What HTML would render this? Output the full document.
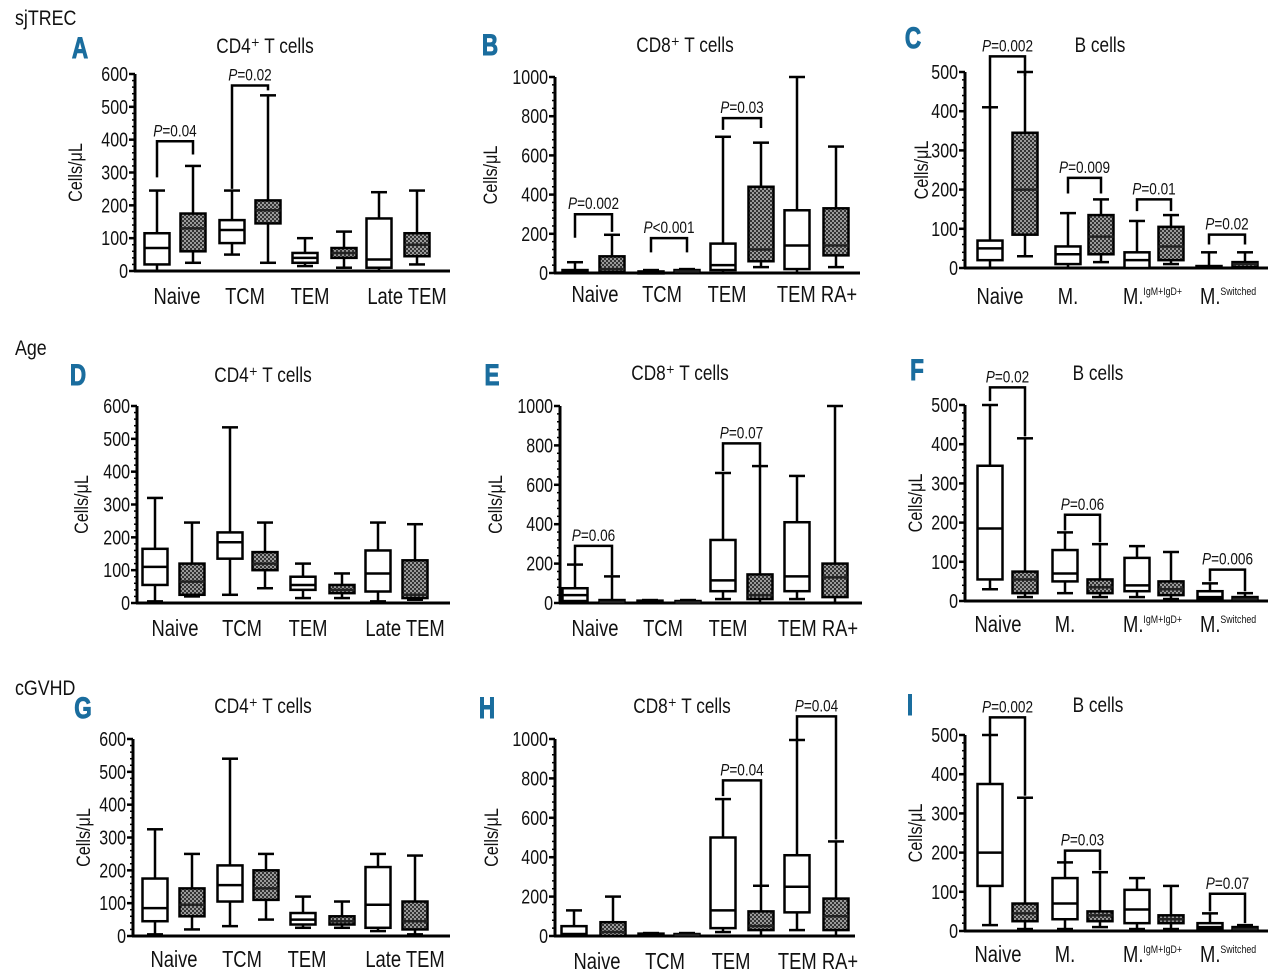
<!DOCTYPE html>
<html><head><meta charset="utf-8"><title>Box plots</title>
<style>
html,body{margin:0;padding:0;background:#fff;}
svg{display:block;font-family:"Liberation Sans",sans-serif;}
</style></head>
<body>
<svg id="fig" width="1280" height="980" viewBox="0 0 1280 980" xmlns="http://www.w3.org/2000/svg">
<defs>
<pattern id="chk" width="4" height="4" patternUnits="userSpaceOnUse">
<rect width="4" height="4" fill="#333"/><rect width="2" height="2" fill="#9a9a9a"/><rect x="2" y="2" width="2" height="2" fill="#9a9a9a"/>
</pattern>
</defs>
</svg>
<script>
// ---- data: each box = [min, q1, median, q3, max]
const tCats = ["Naive","TCM","TEM","Late TEM"];
const cd8Cats = ["Naive","TCM","TEM","TEM RA+"];
const bCats = ["Naive","M.","M.","M."];
const bSup = ["","","IgM+IgD+","Switched"];

const aBoxes = [[0,20,70,115,245],[25,60,130,175,320],[50,85,125,155,245],[25,145,185,215,535],[15,25,40,55,100],[10,40,55,70,120],[0,10,35,160,240],[20,45,80,115,245]];
const bBoxes = [[0,0,5,15,55],[0,5,20,85,195],[0,0,3,8,15],[0,3,8,15,20],[0,15,40,150,695],[30,60,120,440,665],[0,20,140,320,1000],[30,90,140,330,645]];
const cBoxes = [[0,20,50,70,410],[30,85,200,345,500],[0,10,35,55,140],[15,35,80,135,175],[0,0,20,40,120],[10,20,55,105,135],[0,0,2,5,40],[0,2,10,15,40]];
const dBoxes = [[5,55,110,165,320],[20,25,65,120,245],[25,135,185,215,535],[45,100,120,155,245],[15,40,55,80,120],[15,30,40,55,90],[5,35,90,160,245],[10,15,25,130,240]];
const eBoxes = [[0,10,40,75,195],[0,0,5,15,135],[0,0,5,12,15],[0,0,3,10,15],[20,60,115,320,660],[0,20,40,145,695],[20,60,135,410,645],[0,30,130,200,1000]];
const fBoxes = [[30,55,185,345,500],[10,20,55,75,415],[20,50,70,130,175],[10,20,35,55,145],[10,25,40,110,140],[5,15,30,50,125],[0,5,10,25,45],[0,5,5,10,20]];
const gBoxes = [[5,45,85,175,325],[20,60,95,145,250],[30,105,155,215,540],[50,110,145,200,250],[25,35,50,70,120],[25,35,45,60,105],[15,25,95,210,250],[5,20,45,105,245]];
const hBoxes = [[0,0,10,50,130],[0,0,20,70,200],[0,0,5,12,15],[0,0,5,10,15],[20,40,130,500,695],[0,30,50,125,255],[30,120,250,410,995],[0,30,100,190,480]];
const iBoxes = [[15,115,200,375,500],[5,25,45,70,340],[5,30,70,135,175],[10,25,40,50,150],[5,20,55,105,135],[5,20,30,40,115],[0,5,10,20,45],[0,5,5,10,15]];

// brackets: [groupIndex, topValue, leftBottom, rightBottom, label]
const aBr = [[0,395,285,355,"0.04"],[1,565,250,550,"0.02"]];
const bBr = [[0,300,180,210,"0.002"],[1,178,105,105,"<0.001"],[2,790,730,740,"0.03"]];
const cBr = [[0,540,410,490,"0.002"],[1,230,190,190,"0.009"],[2,175,145,145,"0.01"],[3,85,60,60,"0.02"]];
const dBr = [];
const eBr = [[0,290,200,140,"0.06"],[2,810,670,700,"0.07"]];
const fBr = [[0,545,510,420,"0.02"],[1,220,180,150,"0.06"],[3,80,50,25,"0.006"]];
const gBr = [];
const hBr = [[2,790,710,260,"0.04"],[3,1115,1000,490,"0.04"]];
const iBr = [[0,545,500,345,"0.002"],[1,205,175,155,"0.03"],[3,95,50,20,"0.07"]];

const NS="http://www.w3.org/2000/svg";
const svg=document.getElementById('fig');
function el(tag,attrs,parent){const e=document.createElementNS(NS,tag);for(const k in attrs)e.setAttribute(k,attrs[k]);(parent||svg).appendChild(e);return e;}
function txt(x,y,s,size,anchor,parent,sx,extra){
  const t=el('text',Object.assign({transform:`translate(${x},${y}) scale(${sx||0.8},1)`,'font-size':size,'text-anchor':anchor||'middle',fill:'#111'},extra||{}),parent);
  t.textContent=s;return t;
}

const panels=[
 {id:'a',letter:'A',lx:80,ly:58,title:'CD4⁺ T cells',tx:265,ty:53,ax:135,y0:271,yT:74,max:600,step:100,end:450,cx:[157,193,232,268,305,344,379,417],data:aBoxes,br:aBr,cats:tCats,labX:[177,245,310,407],labY:304,ytx:82,sup:null},
 {id:'b',letter:'B',lx:490,ly:55,title:'CD8⁺ T cells',tx:685,ty:52,ax:555,y0:273,yT:77,max:1000,step:200,end:860,cx:[575,612,651,687,723,761,797,836],data:bBoxes,br:bBr,cats:cd8Cats,labX:[595,662,727,817],labY:302,ytx:497,sup:null},
 {id:'c',letter:'C',lx:913,ly:48,title:'B cells',tx:1100,ty:52,ax:965,y0:268,yT:72,max:500,step:100,end:1268,cx:[990,1025,1068,1101,1137,1171,1209,1245],data:cBoxes,br:cBr,cats:bCats,labX:[1000,1068,1133,1210],labY:304,ytx:928,sup:bSup},
 {id:'d',letter:'D',lx:78,ly:385,title:'CD4⁺ T cells',tx:263,ty:382,ax:137,y0:603,yT:406,max:600,step:100,end:450,cx:[155,192,230,265,303,342,378,415],data:dBoxes,br:dBr,cats:tCats,labX:[175,242,308,405],labY:636,ytx:88,sup:null},
 {id:'e',letter:'E',lx:492,ly:385,title:'CD8⁺ T cells',tx:680,ty:380,ax:560,y0:603,yT:406,max:1000,step:200,end:862,cx:[575,612,650,688,723,760,797,835],data:eBoxes,br:eBr,cats:cd8Cats,labX:[595,663,728,818],labY:636,ytx:502,sup:null},
 {id:'f',letter:'F',lx:917,ly:380,title:'B cells',tx:1098,ty:380,ax:965,y0:601,yT:405,max:500,step:100,end:1268,cx:[990,1025,1065,1100,1137,1171,1210,1245],data:fBoxes,br:fBr,cats:bCats,labX:[998,1065,1133,1210],labY:632,ytx:922,sup:bSup},
 {id:'g',letter:'G',lx:83,ly:718,title:'CD4⁺ T cells',tx:263,ty:713,ax:133,y0:936,yT:739,max:600,step:100,end:450,cx:[155,192,230,266,303,342,378,415],data:gBoxes,br:gBr,cats:tCats,labX:[174,242,307,405],labY:967,ytx:90,sup:null},
 {id:'h',letter:'H',lx:487,ly:718,title:'CD8⁺ T cells',tx:682,ty:713,ax:555,y0:936,yT:739,max:1000,step:200,end:855,cx:[574,613,651,687,723,761,797,836],data:hBoxes,br:hBr,cats:cd8Cats,labX:[597,665,731,818],labY:969,ytx:498,sup:null},
 {id:'i',letter:'I',lx:910,ly:715,title:'B cells',tx:1098,ty:712,ax:965,y0:931,yT:735,max:500,step:100,end:1268,cx:[990,1025,1065,1100,1137,1171,1210,1245],data:iBoxes,br:iBr,cats:bCats,labX:[998,1065,1133,1210],labY:962,ytx:922,sup:bSup}
];

function drawPanel(p){
  const g=el('g',{});
  
  
  const Y=v=>p.y0-(v/p.max)*(p.y0-p.yT);
  const L=txt(p.lx,p.ly,p.letter,30,'middle',g,0.75,{fill:'#1a6d9e','font-weight':'bold',stroke:'#1a6d9e','stroke-width':1});
  
  
  const T=txt(p.tx,p.ty,p.title,21,'middle',g,0.82);
  
  
  const ax=el('g',{stroke:'#000'},g);
  
  
  el('line',{x1:p.ax,y1:p.yT,x2:p.ax,y2:p.y0+1,'stroke-width':3},ax);
  el('line',{x1:p.ax-1,y1:p.y0,x2:p.end,y2:p.y0,'stroke-width':3},ax);
  const minor=p.step/5;
  for(let v=0;v<=p.max+0.001;v+=minor){
    const isMaj=Math.abs(v/p.step-Math.round(v/p.step))<1e-6;
    el('line',{x1:p.ax-(isMaj?6:3),y1:Y(v),x2:p.ax,y2:Y(v),'stroke-width':isMaj?2.5:1.5},ax);
    if(isMaj){
      const t=txt(p.ax-7,Y(v)+7,String(Math.round(v)),20,'end',g,0.8);
      
      
    }
  }
  const yt=el('text',{transform:`translate(${p.ytx},${(p.y0+p.yT)/2}) rotate(-90) scale(0.85,1)`,'font-size':19,'text-anchor':'middle',fill:'#111'},g);
  yt.textContent='Cells/μL';
  
  
  const w=25;
  p.data.forEach((b,i)=>{
    const c=p.cx[i];const filled=i%2===1;
    const bg=el('g',{stroke:'#000','stroke-width':2.5,fill:'none'},g);
    
    
    el('line',{x1:c,y1:Y(b[4]),x2:c,y2:Y(b[3])},bg);
    el('line',{x1:c,y1:Y(b[1]),x2:c,y2:Y(b[0])},bg);
    el('line',{x1:c-8,y1:Y(b[4]),x2:c+8,y2:Y(b[4])},bg);
    el('line',{x1:c-8,y1:Y(b[0]),x2:c+8,y2:Y(b[0])},bg);
    const h=Math.max(Y(b[1])-Y(b[3]),2);
    el('rect',{x:c-w/2,y:Y(b[3]),width:w,height:h,fill:filled?'url(#chk)':'#fff'},bg);
    el('line',{x1:c-w/2,y1:Y(b[2]),x2:c+w/2,y2:Y(b[2]),stroke:filled?'#222':'#000'},bg);
  });
  p.br.forEach(br=>{
    const x1=p.cx[br[0]*2],x2=p.cx[br[0]*2+1];
    const bg=el('g',{stroke:'#000','stroke-width':2.5,fill:'none'},g);
    
    
    el('path',{d:`M${x1},${Y(br[2])} L${x1},${Y(br[1])} L${x2},${Y(br[1])} L${x2},${Y(br[3])}`},bg);
    const t=el('text',{transform:`translate(${(x1+x2)/2},${Y(br[1])-5}) scale(0.8,1)`,'font-size':17,'text-anchor':'middle',fill:'#111'},g);
    const it=el('tspan',{'font-style':'italic'},t);it.textContent='P';
    const r=el('tspan',{},t);r.textContent=(br[4][0]==='<'?'':'=')+br[4];
    
    
  });
  p.cats.forEach((c,i)=>{
    const t=el('text',{transform:`translate(${p.labX[i]},${p.labY}) scale(0.8,1)`,'font-size':23,'text-anchor':p.sup&&p.sup[i]?'start':'middle',fill:'#111'},g);
    t.textContent=c;
    if(p.sup&&p.sup[i]){
      t.setAttribute('transform',`translate(${p.labX[i]-10},${p.labY}) scale(0.8,1)`);
      const s=el('tspan',{'font-size':11,dy:-9},t);s.textContent=p.sup[i];
    }
    
    
  });
}
panels.forEach(drawPanel);
[['sjTREC',15,25],['Age',15,355],['cGVHD',15,695]].forEach(s=>{
  const t=txt(s[1],s[2],s[0],21,'start',svg,0.85);
  
  
});
</script>
</body></html>
